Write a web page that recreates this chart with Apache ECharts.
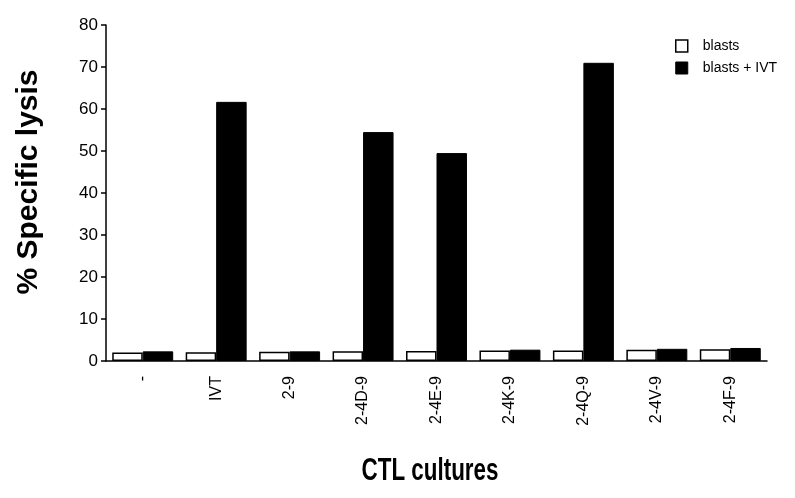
<!DOCTYPE html>
<html>
<head>
<meta charset="utf-8">
<script src="https://cdn.jsdelivr.net/npm/echarts@6/dist/echarts.min.js"></script>
<style>html,body{margin:0;padding:0;background:#fff;}#c{width:795px;height:498px;}</style>
</head>
<body>
<div id="c"></div>
<script>
const categories = ['-', 'IVT', '2-9', '2-4D-9', '2-4E-9', '2-4K-9', '2-4Q-9', '2-4V-9', '2-4F-9'];
const blasts = [2.0, 2.1, 2.2, 2.3, 2.4, 2.5, 2.5, 2.7, 2.8];
const blastsIVT = [2.3, 61.7, 2.3, 54.5, 49.5, 2.7, 71.0, 2.9, 3.1];
const yTicks = [0, 10, 20, 30, 40, 50, 60, 70, 80];
const xTitle = 'CTL cultures';
const yTitle = '% Specific lysis';

const font = 'Liberation Sans, Arial, Helvetica, sans-serif';
const chart = echarts.init(document.getElementById('c'));
chart.setOption({
  animation: false,
  backgroundColor: '#fff',
  grid: { left: 106, right: 28, top: 25, bottom: 137, containLabel: false },
  legend: {
    orient: 'vertical', left: 670, top: 34, itemGap: 8,
    itemWidth: 12, itemHeight: 12,
    textStyle: { fontFamily: font, fontSize: 14, color: '#000', padding: [0, 0, 0, 10] },
    data: [
      { name: 'blasts', icon: 'rect', itemStyle: { color: '#fff', borderColor: '#000', borderWidth: 1.5 } },
      { name: 'blasts + IVT', icon: 'rect', itemStyle: { color: '#000', borderColor: '#000', borderWidth: 1 } }
    ]
  },
  graphic: [{
    type: 'text', x: 430, y: 471, scaleX: 0.7,
    style: { text: xTitle, fill: '#000', font: 'bold 32px ' + font, textAlign: 'center', textVerticalAlign: 'middle' }
  }],
  xAxis: [{
    type: 'category', data: categories,
    axisLine: { lineStyle: { color: '#000', width: 1.5 } },
    axisTick: { alignWithLabel: true, length: 7, lineStyle: { color: '#000', width: 1.5 } },
    axisLabel: { rotate: 90, interval: 0, margin: 15, fontFamily: font, fontSize: 16, color: '#000' }
  }, {
    type: 'category', data: categories, position: 'bottom',
    axisLine: { show: false },
    axisTick: { length: 4, lineStyle: { color: '#000', width: 1.5 } },
    axisLabel: { show: false }
  }],
  yAxis: {
    type: 'value', min: 0, max: 80, interval: 10,
    name: yTitle, nameLocation: 'middle', nameGap: 62,
    nameTextStyle: { fontFamily: font, fontWeight: 'bold', fontSize: 30, color: '#000', padding: [0, 0, 0, 22] },
    axisLine: { show: true, lineStyle: { color: '#000', width: 1.5 } },
    axisTick: { show: true, length: 5, lineStyle: { color: '#000', width: 1.5 } },
    splitLine: { show: false },
    axisLabel: {
      fontFamily: font, fontSize: 17, color: '#000', margin: 8,
      formatter: v => (yTicks.indexOf(v) >= 0 ? String(v) : '')
    }
  },
  series: [{
    name: 'blasts', type: 'bar', data: blasts,
    barGap: '0%', barCategoryGap: '17%',
    itemStyle: { color: '#fff', borderColor: '#000', borderWidth: 1.5 }
  }, {
    name: 'blasts + IVT', type: 'bar', data: blastsIVT,
    itemStyle: { color: '#000', borderColor: '#000', borderWidth: 1 }
  }]
});
</script>
</body>
</html>
